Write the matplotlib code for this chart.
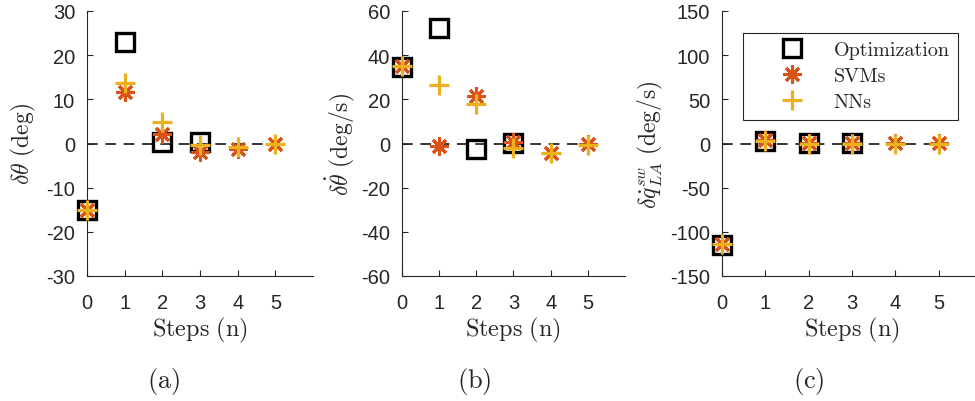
import numpy as np
import matplotlib
matplotlib.use('Agg')
import matplotlib.pyplot as plt

plt.rcParams['mathtext.fontset'] = 'cm'
plt.rcParams['axes.unicode_minus'] = False
plt.rcParams['font.family'] = ['Liberation Sans', 'DejaVu Sans']

# Dados de cada painel: passos e desvios por método
passos = [0, 1, 2, 3, 4, 5]
passos_otim = [0, 1, 2, 3]

theta_otim = [-15, 23, 0.3, 0.3]
theta_svm = [-15, 11.7, 2.2, -2.0, -1.2, 0.0]
theta_nn = [-15, 13.6, 4.9, -0.3, -0.7, 0.0]

dtheta_otim = [34.5, 52.2, -2.5, 0.2]
dtheta_svm = [35.2, -1.0, 21.7, 0.8, -4.3, -0.4]
dtheta_nn = [35.0, 26.5, 17.9, -2.0, -4.3, -0.7]

dq_otim = [-114.5, 3.0, 0.5, 0.5]
dq_svm = [-114.0, 3.5, 0.5, 1.0, 0.5, 0.5]
dq_nn = [-114.0, 3.0, 0.0, 0.0, 0.0, 0.0]

ylabels = [r'$\delta\theta\ (\mathrm{deg})$',
           r'$\delta\dot{\theta}\ (\mathrm{deg/s})$',
           r'$\delta\dot{q}^{sw}_{LA}\ (\mathrm{deg/s})$']
ylims = [(-30, 30), (-60, 60), (-150, 150)]
yticks = [np.arange(-30, 31, 10), np.arange(-60, 61, 20), np.arange(-150, 151, 50)]
dados = [(theta_otim, theta_svm, theta_nn),
         (dtheta_otim, dtheta_svm, dtheta_nn),
         (dq_otim, dq_svm, dq_nn)]
letras = ['(a)', '(b)', '(c)']

cinza = '#262626'
laranja = '#D95319'
amarelo = '#EDB120'

W, H = 975, 402
fig = plt.figure(figsize=(W / 100, H / 100), dpi=100)

# posições dos eixos em pixels: esquerda, largura
caixas = [(87, 226), (401.7, 223.5), (722, 260)]
topo, base = 12, 277
centros_letra = [163.5, 474, 809]
ylabel_x = [23, 340, 650]

for i in range(3):
    esq, larg = caixas[i]
    ax = fig.add_axes([esq / W, 1 - base / H, larg / W, (base - topo) / H])
    otim, svm, nn = dados[i]

    ax.hlines(0, 0, 5, colors='k', linestyles=(0, (7, 5)), linewidth=1.1, zorder=1)
    ax.plot(passos_otim, otim, 's', markersize=12.5, markerfacecolor='none',
            markeredgecolor='k', markeredgewidth=2.4, label='Optimization',
            zorder=2, clip_on=False)
    ax.plot(passos, svm, marker=(8, 2, 0), linestyle='none', markersize=13,
            color=laranja, markeredgewidth=2.2, label='SVMs', zorder=3, clip_on=False)
    ax.plot(passos, nn, '+', markersize=15, color=amarelo,
            markeredgewidth=2.3, label='NNs', zorder=4, clip_on=False)

    ax.set_xlim(0, 6)
    ax.set_ylim(*ylims[i])
    ax.set_xticks(passos)
    ax.set_yticks(yticks[i])
    ax.spines['top'].set_visible(False)
    ax.spines['right'].set_visible(False)
    for s in ['left', 'bottom']:
        ax.spines[s].set_color(cinza)
        ax.spines[s].set_linewidth(0.8)
    ax.tick_params(direction='in', length=4, width=0.8, colors=cinza,
                   labelsize=14.5, labelcolor=cinza)
    ax.tick_params(axis='x', pad=12.5)
    ax.tick_params(axis='y', pad=8.5)

    ax.set_xlabel(r'$\mathrm{Steps\ (n)}$', fontsize=17.5, color=cinza)
    ax.xaxis.set_label_coords(0.5, (base - 330) / (base - topo), transform=ax.transAxes)
    ax.set_ylabel(ylabels[i], fontsize=17, color=cinza)
    ax.yaxis.set_label_coords((ylabel_x[i] - esq) / larg, 0.5)
    ax.xaxis.label.set_va('center')
    ax.yaxis.label.set_va('center')

    fig.text(centros_letra[i] / W, 1 - 382 / H, r'$\mathrm{' + letras[i] + '}$',
             fontsize=19, ha='center', va='center', color=cinza)

    if i == 2:
        leg = ax.legend(loc='upper left', bbox_to_anchor=(743 / W, 1 - 34 / H),
                        bbox_transform=fig.transFigure, fancybox=False,
                        edgecolor=cinza, framealpha=1, fontsize=14.5,
                        handletextpad=0.0, borderpad=0.4, labelspacing=0.4,
                        handlelength=4.1, borderaxespad=0)
        leg.get_frame().set_linewidth(0.8)
        for t in leg.get_texts():
            t.set_fontfamily('cmr10')
            t.set_color(cinza)

fig.savefig('out.png', dpi=100)
